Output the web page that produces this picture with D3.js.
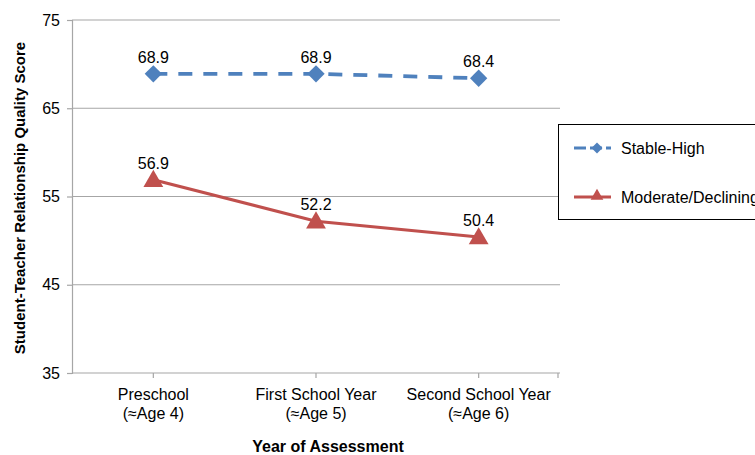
<!DOCTYPE html>
<html>
<head>
<meta charset="utf-8">
<script src="https://cdn.jsdelivr.net/npm/d3@7"></script>
<style>
  body { margin: 0; background: #fff; }
  text { font-family: "Liberation Sans", Arial, sans-serif; }
</style>
</head>
<body>
<svg width="755" height="455"></svg>
<script>
const categories = ["Preschool|(≈Age 4)", "First School Year|(≈Age 5)", "Second School Year|(≈Age 6)"];
const stableHigh = [68.9, 68.9, 68.4];
const moderateDeclining = [56.9, 52.2, 50.4];
const yTicks = [35, 45, 55, 65, 75];

const series = [
  { name: "Stable-High", values: stableHigh, color: "#4F81BD", dash: "14,11", marker: "diamond" },
  { name: "Moderate/Declining", values: moderateDeclining, color: "#C0504D", dash: null, marker: "triangle" }
];

const svg = d3.select("svg");
const plotL = 72, plotR = 560, plotT = 20, plotB = 373;

const x = d3.scaleBand().domain(categories).range([plotL, plotR]);
const y = d3.scaleLinear().domain([35, 75]).range([plotB, plotT]);
const cx = c => x(c) + x.bandwidth() / 2;

// marker shapes: diamond = rotated square, triangle
const markerPath = (type, big) => type === "diamond"
  ? d3.symbol().type(d3.symbolSquare).size(big ? 150 : 60)()
  : d3.symbol().type(d3.symbolTriangle).size(big ? 170 : 70)();
const markerRot = type => type === "diamond" ? " rotate(45)" : "";

// gridlines
svg.append("g")
  .selectAll("line")
  .data(yTicks.slice(1))
  .join("line")
  .attr("x1", plotL).attr("x2", plotR)
  .attr("y1", d => y(d)).attr("y2", d => y(d))
  .attr("stroke", "#a6a6a6").attr("stroke-width", 1.2);

// y axis
const yAxis = svg.append("g")
  .attr("transform", `translate(${plotL},0)`)
  .call(d3.axisLeft(y).tickValues(yTicks).tickSize(5).tickPadding(7));
yAxis.select(".domain").attr("stroke", "#a6a6a6").attr("stroke-width", 1.2);
yAxis.selectAll(".tick line").attr("stroke", "#a6a6a6").attr("stroke-width", 1.2);
yAxis.selectAll("text").attr("font-size", 16).attr("fill", "#000")
  .attr("font-family", "Liberation Sans, Arial, sans-serif");

// x axis
const xAxis = svg.append("g").attr("transform", `translate(0,${plotB})`);
xAxis.append("line").attr("x1", plotL).attr("x2", plotR)
  .attr("stroke", "#a6a6a6").attr("stroke-width", 1.2);
const tickXs = categories.map(cx).concat([plotR - 2]);
xAxis.selectAll(".xt").data(tickXs).join("line")
  .attr("x1", d => d).attr("x2", d => d).attr("y1", 0).attr("y2", 5)
  .attr("stroke", "#a6a6a6").attr("stroke-width", 1.2);
categories.forEach(c => {
  const t = xAxis.append("text")
    .attr("text-anchor", "middle")
    .attr("font-size", 16);
  c.split("|").forEach((line, i) => {
    t.append("tspan").attr("x", cx(c)).attr("y", 27 + i * 18.5).text(line);
  });
});

// axis titles
svg.append("text")
  .attr("x", 328).attr("y", 452)
  .attr("text-anchor", "middle")
  .attr("font-size", 16).attr("font-weight", "bold")
  .text("Year of Assessment");
svg.append("text")
  .attr("transform", `translate(25,198) rotate(-90)`)
  .attr("text-anchor", "middle")
  .attr("font-size", 15).attr("font-weight", "bold")
  .text("Student-Teacher Relationship Quality Score");

// lines
const line = d3.line()
  .x((d, i) => cx(categories[i]))
  .y(d => y(d));

series.forEach(s => {
  svg.append("path")
    .datum(s.values)
    .attr("d", line)
    .attr("fill", "none")
    .attr("stroke", s.color)
    .attr("stroke-width", s.dash ? 3.8 : 3)
    .attr("stroke-dasharray", s.dash);

  svg.append("g").selectAll("path")
    .data(s.values)
    .join("path")
    .attr("transform", (d, i) => `translate(${cx(categories[i])},${y(d) + (s.marker === "triangle" ? 1.5 : 0)})${markerRot(s.marker)}`)
    .attr("d", markerPath(s.marker, true))
    .attr("fill", s.color);

  svg.append("g").selectAll("text")
    .data(s.values)
    .join("text")
    .attr("x", (d, i) => cx(categories[i]))
    .attr("y", d => y(d) - 11)
    .attr("text-anchor", "middle")
    .attr("font-size", 16)
    .text(d => d.toFixed(1));
});

// legend
const legend = svg.append("g");
legend.append("rect")
  .attr("x", 558.5).attr("y", 124.5).attr("width", 210).attr("height", 95)
  .attr("fill", "#fff").attr("stroke", "#000").attr("stroke-width", 1);
series.forEach((s, i) => {
  const ly = 148 + i * 49;
  legend.append("line")
    .attr("x1", 574).attr("x2", 611).attr("y1", ly).attr("y2", ly)
    .attr("stroke", s.color).attr("stroke-width", 3)
    .attr("stroke-dasharray", s.dash ? "12,4" : null);
  legend.append("path")
    .attr("transform", `translate(597,${ly - (s.marker === "triangle" ? 1 : 0)})${markerRot(s.marker)}`)
    .attr("d", markerPath(s.marker, false))
    .attr("fill", s.color);
  legend.append("text")
    .attr("x", 621).attr("y", ly + 6)
    .attr("font-size", 16)
    .text(s.name);
});
</script>
</body>
</html>
